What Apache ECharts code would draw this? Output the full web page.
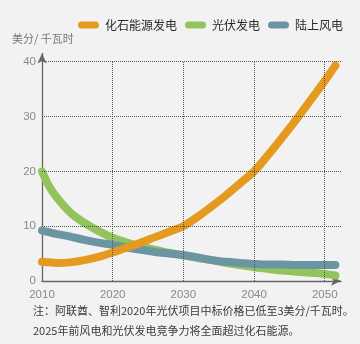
<!DOCTYPE html>
<html>
<head>
<meta charset="utf-8">
<style>
  html, body { margin: 0; padding: 0; background: #f2f2f2; }
  #chart { width: 360px; height: 344px; }
</style>
<script src="https://cdn.jsdelivr.net/npm/echarts@6/dist/echarts.min.js"></script>
</head>
<body>
<div id="chart"></div>
<script>
// Levelized cost of electricity (US cents / kWh), 2010–2051
const years = [2010, 2011, 2012, 2014, 2016, 2018, 2020, 2022, 2024, 2026, 2028, 2030,
               2032, 2034, 2036, 2038, 2040, 2042, 2044, 2046, 2048, 2050, 2051.5];
const fossil = [3.5, 3.4, 3.3, 3.4, 3.8, 4.4, 5.2, 6.1, 7.0, 8.0, 9.0, 10.0,
                11.7, 13.6, 15.6, 17.8, 20.0, 23.0, 26.2, 29.5, 33.0, 36.5, 39.3];
const solar = [20.0, 17.3, 15.4, 12.5, 10.6, 9.1, 7.9, 7.0, 6.3, 5.7, 5.1, 4.7,
               4.2, 3.8, 3.3, 2.9, 2.5, 2.2, 1.9, 1.7, 1.5, 1.3, 1.0];
const wind = [9.2, 8.9, 8.6, 8.1, 7.5, 7.0, 6.6, 6.1, 5.7, 5.3, 5.0, 4.7,
              4.3, 3.8, 3.5, 3.3, 3.1, 3.0, 3.0, 2.9, 2.9, 2.9, 2.9];

const seriesNames = ['化石能源发电', '光伏发电', '陆上风电'];
const xTicks = [2020, 2030, 2040, 2050];
const yTicks = [10, 20, 30, 40];
const xMin = 2010, xMax = 2052.3;
const yMin = 0, yMax = 41.5;

const unitLabel = '美分/ 千瓦时';
const noteLines = [
  '注：阿联酋、智利2020年光伏项目中标价格已低至3美分/千瓦时。',
  '2025年前风电和光伏发电竞争力将全面超过化石能源。'
];

const colors = { fossil: '#e49a1f', solar: '#93c35c', wind: '#6c95a4' };
const font = '"Noto Sans CJK SC", "Noto Sans", sans-serif';
const numFont = '"Liberation Sans", Arial, sans-serif';

const pairs = (ys) => years.map((x, i) => [x, ys[i]]);

const gridLineStyle = { type: 'dotted', color: '#555', width: 1 };
const gridLines = [
  ...xTicks.map(x => [{ coord: [x, yMin] }, { coord: [x, 40] }]),
  ...yTicks.map(y => [{ coord: [xMin, y] }, { coord: [xMax, y] }])
];

function curve(name, data, color, z) {
  return {
    name, type: 'line', data, smooth: 0.35, showSymbol: false, z,
    lineStyle: { color, width: 8, cap: 'round', join: 'round' },
    itemStyle: { color },
    emphasis: { disabled: true }
  };
}

const chart = echarts.init(document.getElementById('chart'), null, { renderer: 'canvas' });
chart.setOption({
  animation: false,
  backgroundColor: '#f2f2f2',
  grid: { left: 42, right: 19, top: 53.5, bottom: 63 },
  legend: {
    data: seriesNames,
    left: 78, top: 19, padding: 0,
    itemWidth: 21, itemHeight: 7, itemGap: 8,
    icon: 'path://M3.5,0 H17.5 A3.5,3.5 0 0 1 17.5,7 H3.5 A3.5,3.5 0 0 1 3.5,0 Z',
    textStyle: { fontFamily: font, fontSize: 12, color: '#2a2a2a', padding: [0, 0, 0, 1] }
  },
  xAxis: {
    type: 'value', min: xMin, max: xMax, interval: 10,
    axisLine: { show: true, lineStyle: { color: '#666', width: 1.3 }, symbol: ['none', 'arrow'], symbolSize: [7, 10] },
    axisTick: { show: false },
    splitLine: { show: false },
    axisLabel: { color: '#888', fontFamily: numFont, fontSize: 11.5, margin: 8, showMaxLabel: false,
      formatter: v => (v % 10 === 0 ? String(v) : '') }
  },
  yAxis: {
    type: 'value', min: yMin, max: yMax, interval: 10,
    axisLine: { show: true, lineStyle: { color: '#666', width: 1.3 }, symbol: ['none', 'arrow'], symbolSize: [7, 10] },
    axisTick: { show: false },
    splitLine: { show: false },
    axisLabel: { color: '#888', fontFamily: numFont, fontSize: 11.5, margin: 6, showMaxLabel: false,
      formatter: v => (v % 10 === 0 ? String(v) : '') }
  },
  graphic: [
    { type: 'text', left: 12, top: 33,
      style: { text: unitLabel, fill: '#777', font: '11px ' + font } },
    { type: 'text', left: 33, top: 305,
      style: { text: noteLines[0], fill: '#3a3a3a', font: '11px ' + font } },
    { type: 'text', left: 33, top: 325,
      style: { text: noteLines[1], fill: '#3a3a3a', font: '11px ' + font } }
  ],
  series: [
    {
      name: 'grid', type: 'line', data: [], z: 1, silent: true,
      markLine: {
        silent: true, symbol: ['none', 'none'], label: { show: false },
        lineStyle: gridLineStyle, emphasis: { disabled: true },
        data: gridLines
      }
    },
    curve(seriesNames[1], pairs(solar), colors.solar, 2),
    curve(seriesNames[2], pairs(wind), colors.wind, 3),
    curve(seriesNames[0], pairs(fossil), colors.fossil, 4)
  ]
});
</script>
</body>
</html>
